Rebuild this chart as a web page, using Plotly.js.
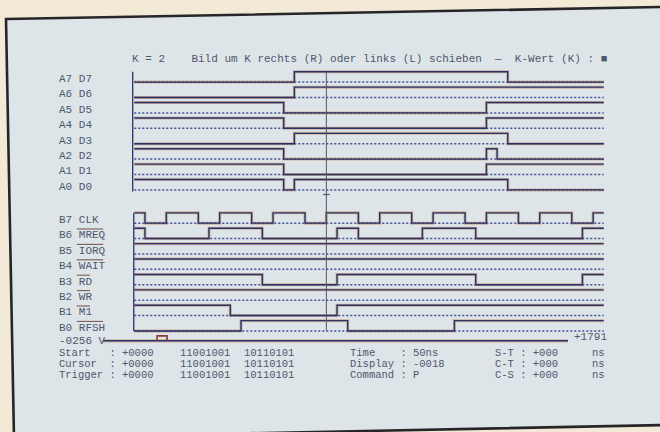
<!DOCTYPE html>
<html><head><meta charset="utf-8">
<script src="https://cdn.plot.ly/plotly-3.0.1.min.js"></script>
<style>html,body{margin:0;padding:0;background:#f2e9d6}#chart{width:660px;height:432px}</style>
</head><body><div id="chart"></div>
<script>
// ---------------- data (sample numbers, 50 ns per sample) ----------------
const sampleTimeNs = 50;
const memStart = -256;
const memEnd = 1791;
const displayStart = -18;
const displayEnd = 26;
const startPos = 0;
const cursorPos = 0;
const triggerPos = 0;
const kValue = 2;
const command = "P";

const busLabels = ["A7 D7","A6 D6","A5 D5","A4 D4","A3 D3","A2 D2","A1 D1","A0 D0"];
const ctrlBits  = ["B7","B6","B5","B4","B3","B2","B1","B0"];
const ctrlNames = ["CLK","MREQ","IORQ","WAIT","RD","WR","M1","RFSH"];
const ctrlActiveLow = [false,true,true,true,true,true,true,true];

// edge times and the level that starts at each edge
const a7T = [-18,-3,17],    a7V = [0,1,0];
const a6T = [-18,-3],       a6V = [0,1];
const a5T = [-18,-4,15],    a5V = [1,0,1];
const a4T = [-18,-4,15],    a4V = [1,0,1];
const a3T = [-18,-3,17],    a3V = [0,1,0];
const a2T = [-18,-4,15,16], a2V = [1,0,1,0];
const a1T = [-18,-4,15],    a1V = [1,0,1];
const a0T = [-18,-4,-3,17], a0V = [1,0,1,0];

const clkT  = [-18,-17,-15,-12,-10,-7,-5,-2,0,3,5,8,10,13,15,18,20,23,25];
const clkV  = [1,0,1,0,1,0,1,0,1,0,1,0,1,0,1,0,1,0,1];
const mreqT = [-18,-17,-11,-6,1,3,9,14,24];
const mreqV = [1,0,1,0,1,0,1,0,1];
const iorqT = [-18], iorqV = [1];
const waitT = [-18], waitV = [1];
const rdT   = [-18,-6,1,14,24], rdV = [1,0,1,0,1];
const wrT   = [-18], wrV = [1];
const m1T   = [-18,-9,1], m1V = [1,0,1];
const rfshT = [-18,-8,2,12], rfshV = [0,1,0,1];

const busT = [a7T,a6T,a5T,a4T,a3T,a2T,a1T,a0T];
const busV = [a7V,a6V,a5V,a4V,a3V,a2V,a1V,a0V];
const ctrlT = [clkT,mreqT,iorqT,waitT,rdT,wrT,m1T,rfshT];
const ctrlV = [clkV,mreqV,iorqV,waitV,rdV,wrV,m1V,rfshV];

// ---------------- layout helpers ----------------
const W = 660, H = 432;
const FONT = "Liberation Mono, DejaVu Sans Mono, monospace";
const TXT = "#50576c";
const NAVY = "#2a3168";
const FRINGE = "rgba(180,112,62,0.45)";
const DOTC = "#41509a";
const CW = 6.6; // monospace char width at 11px
const HIGH = -0.47, LOW = 0.2;
const busSlot = i => i;
const ctrlSlot = j => 9.16 + j;
const barSlot = 17.0;
const level = (slot, v) => slot + (v ? HIGH : LOW);
const px = x => x / W;
const py = y => 1 - y / H;

const traces = [];
function addSignal(T, V, slot) {
  traces.push({x:[displayStart, displayEnd], y:[level(slot,0), level(slot,0)], mode:'lines',
    line:{color:DOTC, width:1.5, dash:'2px,2px'}, hoverinfo:'skip'});
  const x = T.concat([displayEnd]);
  const y = V.concat([V[V.length-1]]).map(v => level(slot, v));
  traces.push({x, y, mode:'lines', line:{shape:'hv', color:FRINGE, width:3}, hoverinfo:'skip'});
  traces.push({x, y, mode:'lines', line:{shape:'hv', color:NAVY, width:1.4}, hoverinfo:'skip'});
}
busT.forEach((T,i) => addSignal(T, busV[i], busSlot(i)));
ctrlT.forEach((T,j) => addSignal(T, ctrlV[j], ctrlSlot(j)));

// overview bar of the whole memory with the display window marker
traces.push({x:[memStart, memEnd], y:[barSlot, barSlot], xaxis:'x2', mode:'lines',
  line:{color:FRINGE, width:3.2}, hoverinfo:'skip'});
traces.push({x:[memStart, memEnd], y:[barSlot, barSlot], xaxis:'x2', mode:'lines',
  line:{color:NAVY, width:1.6}, hoverinfo:'skip'});
traces.push({x:[displayStart, displayStart, displayEnd, displayEnd], y:[barSlot, barSlot-0.32, barSlot-0.32, barSlot],
  xaxis:'x2', mode:'lines', line:{color:'#8a3b30', width:1.6}, hoverinfo:'skip'});

// values at a position
function valAt(T, V, t){ let v = V[0]; for (let i=0;i<T.length;i++) if (T[i] <= t) v = V[i]; return v; }
const busWord  = t => busT.map((T,i) => valAt(T, busV[i], t)).join('');
const ctrlWord = t => ctrlT.map((T,j) => valAt(T, ctrlV[j], t)).join('');
const fmt = (n, d) => (n < 0 ? '-' : '+') + String(Math.abs(n)).padStart(d, '0');

const ann = [];
function txt(x, y, yref, s, size) {
  ann.push({xref:'paper', x:px(x), yref:yref, y:y, text:s, showarrow:false,
    xanchor:'left', yanchor:'middle', font:{family:FONT, size:size||11, color:TXT}});
}
// title
txt(130, py(59), 'paper', `K = ${kValue}    Bild um K rechts (R) oder links (L) schieben  \u2014  K-Wert (K) : \u25A0`);
// channel labels
busLabels.forEach((s,i) => txt(57, busSlot(i), 'y', s));
ctrlNames.forEach((s,j) => txt(57, ctrlSlot(j), 'y', ctrlBits[j] + ' ' + s));
// overview ends
txt(57, barSlot, 'y', fmt(memStart,4) + ' V');
txt(572, barSlot - 0.25, 'y', fmt(memEnd,4));
// info block
const rowsY = [353, 364, 375];
const infoNames = ["Start  ", "Cursor ", "Trigger"];
const infoPos = [startPos, cursorPos, triggerPos];
infoNames.forEach((n,k) => {
  txt(57, py(rowsY[k]), 'paper', n + ' : ' + fmt(infoPos[k],4), 10.5);
  txt(178, py(rowsY[k]), 'paper', busWord(infoPos[k]), 10.5);
  txt(242, py(rowsY[k]), 'paper', ctrlWord(infoPos[k]), 10.5);
});
txt(348, py(rowsY[0]), 'paper', 'Time    : ' + sampleTimeNs + 'ns', 10.5);
txt(348, py(rowsY[1]), 'paper', 'Display : ' + fmt(displayStart,4), 10.5);
txt(348, py(rowsY[2]), 'paper', 'Command : ' + command, 10.5);
const diffNames = ["S-T", "C-T", "C-S"];
const diffVals = [startPos - triggerPos, cursorPos - triggerPos, cursorPos - startPos];
diffNames.forEach((n,k) => {
  txt(493, py(rowsY[k]), 'paper', n + ' : ' + fmt(diffVals[k]*sampleTimeNs,3), 10.5);
  txt(590, py(rowsY[k]), 'paper', 'ns', 10.5);
});

// shapes
const shapes = [];
shapes.push({type:'path', xref:'paper', yref:'paper', layer:'below',
  path:`M ${px(6)},${py(19)} L ${px(664)},${py(7)} L ${px(664)},${py(425)} L ${px(14)},${py(438)} Z`,
  fillcolor:'#dde5e9', line:{color:'#262628', width:2.6}});
// left edges of the trace areas
shapes.push({type:'line', xref:'x', yref:'y', x0:displayStart-0.15, x1:displayStart-0.15,
  y0:level(busSlot(0),1), y1:level(busSlot(7),0)+0.1, line:{color:NAVY, width:1.3}});
shapes.push({type:'line', xref:'x', yref:'y', x0:displayStart-0.05, x1:displayStart-0.05,
  y0:level(ctrlSlot(0),1), y1:level(ctrlSlot(7),0), line:{color:NAVY, width:1.3}});
// cursor
shapes.push({type:'line', xref:'x', yref:'y', x0:cursorPos, x1:cursorPos,
  y0:level(busSlot(0),1), y1:level(ctrlSlot(7),0), line:{color:'#55576a', width:1}});
shapes.push({type:'line', xref:'x', yref:'y', x0:cursorPos-0.3, x1:cursorPos+0.3,
  y0:7.5, y1:7.5, line:{color:'#55576a', width:1.2}});
// overlines for active-low signals
ctrlNames.forEach((s,j) => {
  if (!ctrlActiveLow[j]) return;
  shapes.push({type:'line', xref:'paper', yref:'y',
    x0:px(57 + 3*CW), x1:px(57 + (3 + s.length)*CW),
    y0:ctrlSlot(j) - 0.42, y1:ctrlSlot(j) - 0.42, line:{color:'#7a5a56', width:1.1}});
});

const x0px = 134.3, pxPerSample = 10.67;
const xr = [displayStart - x0px/pxPerSample, displayStart + (W - x0px)/pxPerSample];
const barL = 103, barR = 568, s2 = (barR - barL)/(memEnd - memStart);
const xr2 = [memStart - barL/s2, memEnd + (W - barR)/s2];
const y0px = 79, slotPx = 15.4;
const yr = [(H - y0px)/slotPx, -y0px/slotPx];

const layout = {
  width:W, height:H, margin:{l:0,r:0,t:0,b:0},
  paper_bgcolor:'#f2e9d6', plot_bgcolor:'rgba(0,0,0,0)',
  showlegend:false, hovermode:false,
  xaxis:{range:xr, visible:false, showgrid:false, zeroline:false, fixedrange:true},
  xaxis2:{range:xr2, overlaying:'x', visible:false, showgrid:false, zeroline:false},
  yaxis:{range:yr, visible:false, showgrid:false, zeroline:false, fixedrange:true},
  annotations:ann, shapes:shapes
};
Plotly.newPlot('chart', traces, layout, {staticPlot:true, displayModeBar:false});
</script>
</body></html>
